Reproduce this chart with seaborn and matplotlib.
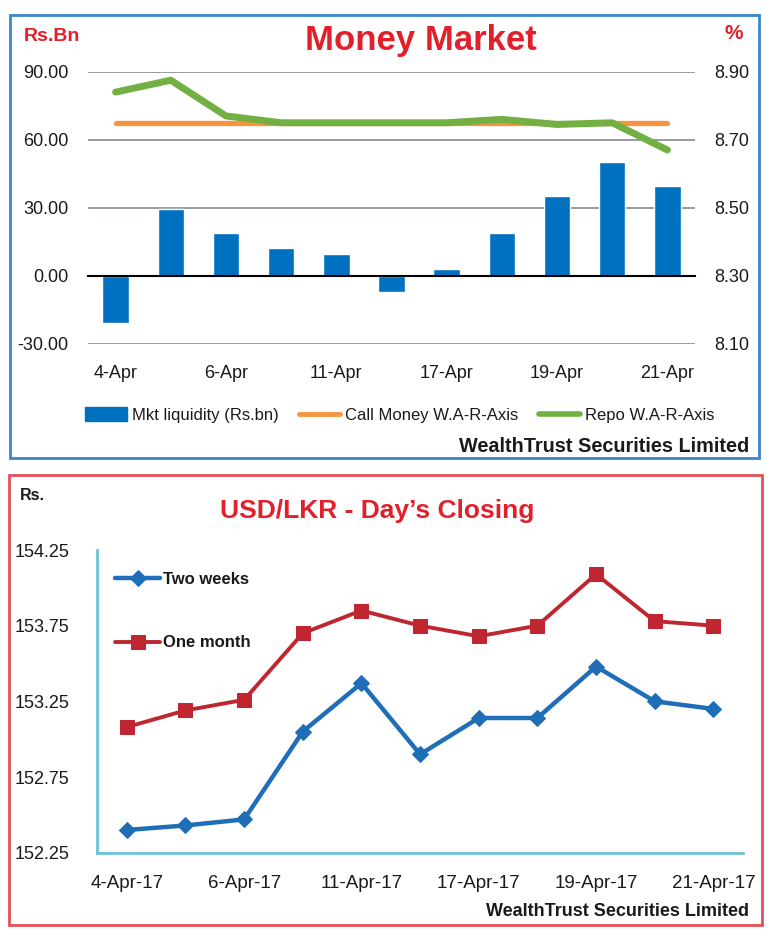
import numpy as np
import pandas as pd
import matplotlib
matplotlib.use("Agg")
import matplotlib.pyplot as plt
import seaborn as sns
from matplotlib import font_manager
from matplotlib.patches import Rectangle, Patch
from matplotlib.lines import Line2D

sns.set_style("white")
names = {f.name for f in font_manager.fontManager.ttflist}
HAS_NARROW = "Liberation Sans Narrow" in names
NARROW = "Liberation Sans Narrow" if HAS_NARROW else "Liberation Sans"
plt.rcParams["font.family"] = ["Liberation Sans", "DejaVu Sans"]

# ---- data ----
mm_dates = ["4-Apr", "5-Apr", "6-Apr", "7-Apr", "11-Apr", "12-Apr",
            "17-Apr", "18-Apr", "19-Apr", "20-Apr", "21-Apr"]
liquidity = [-20.7, 29.6, 18.8, 12.2, 9.5, -7.3, 3.1, 18.8, 35.2, 50.1, 39.5]
call_money = [8.75, 8.75, 8.75, 8.75, 8.75, 8.75, 8.75, 8.75, 8.75, 8.75, 8.75]
repo = [8.84, 8.875, 8.77, 8.75, 8.75, 8.75, 8.75, 8.76, 8.745, 8.75, 8.67]
mm_labels = ["4-Apr", "6-Apr", "11-Apr", "17-Apr", "19-Apr", "21-Apr"]

fx_dates = ["4-Apr-17", "5-Apr-17", "6-Apr-17", "7-Apr-17", "11-Apr-17", "12-Apr-17",
            "17-Apr-17", "18-Apr-17", "19-Apr-17", "20-Apr-17", "21-Apr-17"]
two_weeks = [152.40, 152.43, 152.47, 153.05, 153.37, 152.90, 153.14, 153.14, 153.48, 153.25, 153.20]
one_month = [153.08, 153.19, 153.26, 153.70, 153.85, 153.75, 153.68, 153.75, 154.09, 153.78, 153.75]
fx_labels = ["4-Apr-17", "6-Apr-17", "11-Apr-17", "17-Apr-17", "19-Apr-17", "21-Apr-17"]

RED = "#E2202B"
BAR = "#0070C0"
ORANGE = "#F7953F"
GREEN = "#72B043"
TEAL = "#6CC3D8"
TXT = "#1a1a1a"

W, H = 770, 936
fig = plt.figure(figsize=(W / 100, H / 100), dpi=100)

def fx(px):
    return px / W

def fy(py):
    return 1 - py / H

# panel borders
fig.patches.append(Rectangle((fx(10), fy(458)), fx(749) - fx(0), (458 - 15) / H,
                             transform=fig.transFigure, fill=False, ec="#3A86C6", lw=2))
fig.patches.append(Rectangle((fx(9), fy(925)), fx(753) - fx(0), (925 - 475) / H,
                             transform=fig.transFigure, fill=False, ec="#E3505A", lw=2))

# ---- Money Market ----
mm = pd.DataFrame({"date": mm_dates, "liquidity": liquidity,
                   "call": call_money, "repo": repo})
ax1 = fig.add_axes([fx(88), fy(344), (695 - 88) / W, (344 - 71.7) / H])
sns.barplot(data=mm, x="date", y="liquidity", color=BAR, saturation=1,
            width=0.48, ax=ax1)
ax1.set_xlim(-0.5, 10.5)
ax1.set_ylim(-30, 90)
ax1.set_yticks([-30, 0, 30, 60, 90])
ax1.set_yticklabels([f"{v:.2f}" for v in [-30, 0, 30, 60, 90]])
ax1.yaxis.grid(True, color="#8c9399", lw=1.3)
ax1.set_axisbelow(True)
for s in ["left", "right", "top"]:
    ax1.spines[s].set_visible(False)
ax1.spines["bottom"].set_position(("data", 0))
ax1.spines["bottom"].set_color("black")
ax1.spines["bottom"].set_linewidth(1.5)
ax1.set_xticks(range(0, 11, 2))
ax1.set_xticklabels(mm_labels)
ax1.set_xticks(np.arange(-0.5, 11, 1), minor=True)
ax1.tick_params(axis="x", which="major", length=0, pad=64, labelsize=13, labelcolor=TXT)
ax1.tick_params(axis="x", which="minor", length=5, width=1.2, color="black", direction="out")
ax1.tick_params(axis="y", length=0, pad=14, labelsize=13, labelcolor=TXT)
ax1.set_xlabel("")
ax1.set_ylabel("")

ax2 = ax1.twinx()
sns.lineplot(x=np.arange(len(mm_dates)), y=mm["call"], color=ORANGE, lw=3.8,
             solid_capstyle="round", ax=ax2)
sns.lineplot(x=np.arange(len(mm_dates)), y=mm["repo"], color=GREEN, lw=5,
             solid_capstyle="round", solid_joinstyle="round", ax=ax2)
ax2.set_ylim(8.10, 8.90)
ax2.set_yticks([8.10, 8.30, 8.50, 8.70, 8.90])
ax2.set_yticklabels([f"{v:.2f}" for v in [8.10, 8.30, 8.50, 8.70, 8.90]])
ax2.tick_params(axis="y", length=0, pad=14, labelsize=13, labelcolor=TXT)
for s in ax2.spines.values():
    s.set_visible(False)
ax2.set_ylabel("")
ax2.set_xlim(-0.5, 10.5)

handles = [Patch(color=BAR), Line2D([0], [0], color=ORANGE, lw=3.5),
           Line2D([0], [0], color=GREEN, lw=4)]
fig.legend(handles, ["Mkt liquidity (Rs.bn)", "Call Money W.A-R-Axis", "Repo W.A-R-Axis"],
           loc="center", bbox_to_anchor=(fx(400), fy(415)), ncol=3, frameon=False,
           fontsize=12, handlelength=2.5, handleheight=0.85, handletextpad=0.3,
           columnspacing=1.2, labelcolor=TXT)

fig.text(fx(421), fy(50), "Money Market", ha="center", va="baseline", fontsize=25,
         fontweight="bold", color=RED)
fig.text(fx(24), fy(41), "Rs.Bn", ha="left", va="baseline", fontsize=14,
         fontweight="bold", color=RED)
fig.text(fx(734), fy(39), "%", ha="center", va="baseline", fontsize=15,
         fontweight="bold", color=RED)
fig.text(fx(749), fy(452), "WealthTrust Securities Limited", ha="right", va="baseline",
         fontsize=17 if HAS_NARROW else 14.3, fontweight="bold", color=TXT,
         family=[NARROW, "DejaVu Sans"])

# ---- USD/LKR ----
ax3 = fig.add_axes([fx(97.5), fy(852.7), (742.7 - 97.5) / W, (852.7 - 550) / H])
pos = np.arange(len(fx_dates))
sns.lineplot(x=pos, y=two_weeks, color="#1E6EB8", lw=3.2, marker="D", markersize=8.5,
             markeredgecolor="#1E6EB8", label="Two weeks", ax=ax3)
sns.lineplot(x=pos, y=one_month, color="#BF2630", lw=2.8, marker="s", markersize=10,
             markeredgecolor="#BF2630", label="One month", ax=ax3)
ax3.set_xlim(-0.5, 10.5)
ax3.set_ylim(152.25, 154.25)
yt = [152.25, 152.75, 153.25, 153.75, 154.25]
ax3.set_yticks(yt)
ax3.set_yticklabels([f"{v:.2f}" for v in yt])
for s in ["top", "right"]:
    ax3.spines[s].set_visible(False)
for s in ["left", "bottom"]:
    ax3.spines[s].set_color(TEAL)
    ax3.spines[s].set_linewidth(2)
ax3.set_xticks(range(0, 11, 2))
ax3.set_xticklabels(fx_labels)
ax3.set_xticks(np.arange(-0.5, 11, 1), minor=True)
ax3.tick_params(axis="x", which="major", length=0, pad=16, labelsize=13.5, labelcolor=TXT)
ax3.tick_params(axis="x", which="minor", length=6, width=1.5, color=TEAL, direction="out")
ax3.tick_params(axis="y", length=6, width=1.5, color=TEAL, direction="out", pad=14,
                labelsize=13, labelcolor=TXT)
ax3.set_xlabel("")
ax3.set_ylabel("")
ax3.legend(loc="upper left", bbox_to_anchor=(fx(115), fy(572)),
           bbox_transform=fig.transFigure, frameon=False, borderpad=0, borderaxespad=0,
           handlelength=2.7, handletextpad=0.2, labelspacing=2.9,
           prop={"size": 12, "weight": "bold"}, labelcolor=TXT)

fig.text(fx(377), fy(518), "USD/LKR - Day\u2019s Closing", ha="center", va="baseline",
         fontsize=22 if HAS_NARROW else 19, fontweight="bold", color=RED,
         family=[NARROW, "DejaVu Sans"])
fig.text(fx(20), fy(500), "Rs.", ha="left", va="baseline", fontsize=11.5,
         fontweight="bold", color=TXT)
fig.text(fx(749), fy(916), "WealthTrust Securities Limited", ha="right", va="baseline",
         fontsize=13, fontweight="bold", color=TXT)

fig.savefig("out.png", dpi=100)
